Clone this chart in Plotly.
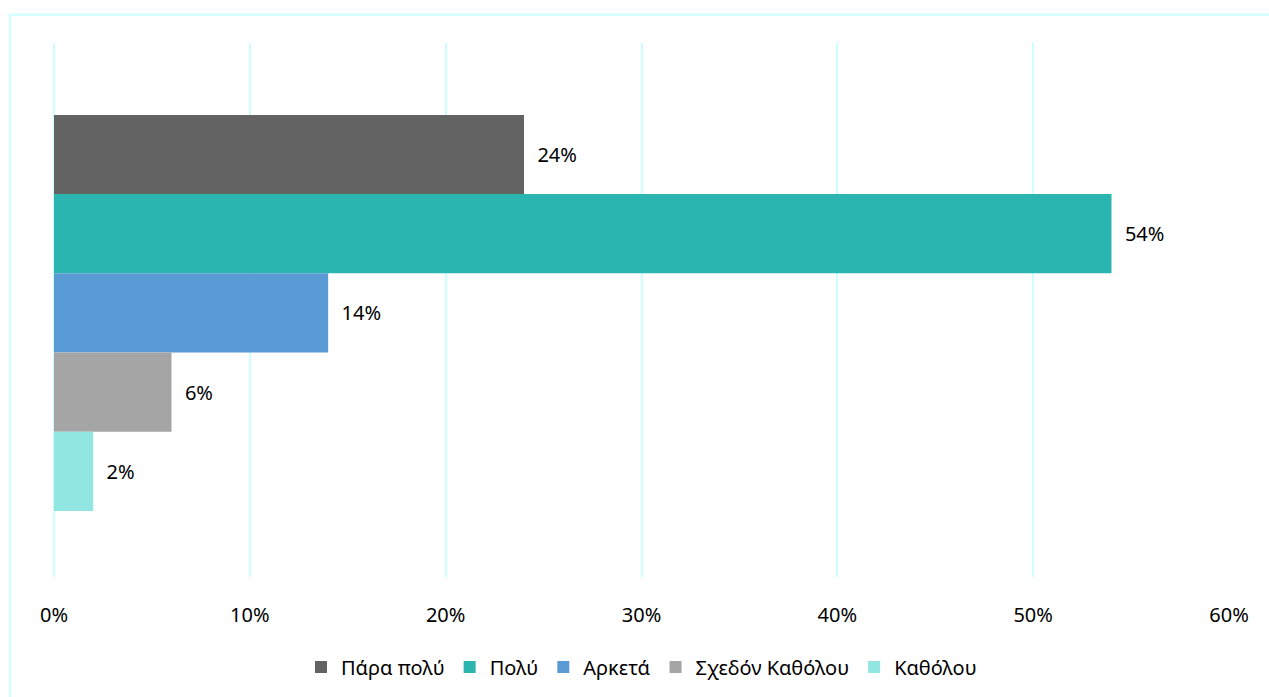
import plotly.graph_objects as go

series_names = ["Πάρα πολύ", "Πολύ", "Αρκετά", "Σχεδόν Καθόλου", "Καθόλου"]
series_values = [0.24, 0.54, 0.14, 0.06, 0.02]
series_colors = ["#636363", "#2BB5B0", "#5B9BD5", "#A5A5A5", "#92E6E2"]
category = ["Q"]
tick_values = [0, 0.1, 0.2, 0.3, 0.4, 0.5, 0.6]
tick_labels = ["0%", "10%", "20%", "30%", "40%", "50%", "60%"]

FONT = "Noto Sans, Open Sans, sans-serif"
GRID = "#CCFFFF"
FS = 20

fig = go.Figure()
for name, val, col in zip(series_names, series_values, series_colors):
    fig.add_trace(go.Bar(
        y=category, x=[val], name=name, orientation="h",
        marker=dict(color=col, line=dict(width=0)),
        text=[val], texttemplate="  %{x:.0%}", textposition="outside",
        textfont=dict(size=FS, color="#000000", family=FONT),
        cliponaxis=False,
    ))

fig.update_layout(
    barmode="group",
    bargap=0.258,
    bargroupgap=0,
    width=1269, height=697,
    margin=dict(l=54, r=40, t=43, b=119),
    plot_bgcolor="white", paper_bgcolor="white",
    font=dict(family=FONT, size=FS, color="#000000"),
    showlegend=True,
    legend=dict(orientation="h", x=0.5, xanchor="center", y=-0.13, yanchor="top",
                font=dict(size=FS, family=FONT), itemwidth=30, tracegroupgap=0),
    xaxis=dict(range=[0, 0.6], tickvals=tick_values, ticktext=tick_labels,
               showgrid=True, gridcolor=GRID, gridwidth=1.5,
               zeroline=True, zerolinecolor=GRID, zerolinewidth=1.5,
               showline=False, ticks="", ticklabelstandoff=24,
               tickfont=dict(size=FS, family=FONT)),
    yaxis=dict(range=[0.4944, -0.5056], showticklabels=False, showgrid=False,
               zeroline=False, showline=False, ticks=""),
    shapes=[dict(type="rect", xref="paper", yref="paper",
                 x0=-0.0375, x1=1.04, y0=-0.25, y1=1.053,
                 line=dict(color=GRID, width=2), fillcolor="rgba(0,0,0,0)", layer="below")],
)

fig.write_html("out.html", config={"displayModeBar": False},
               post_script="document.body.style.margin='0';document.body.style.overflow='hidden';")
